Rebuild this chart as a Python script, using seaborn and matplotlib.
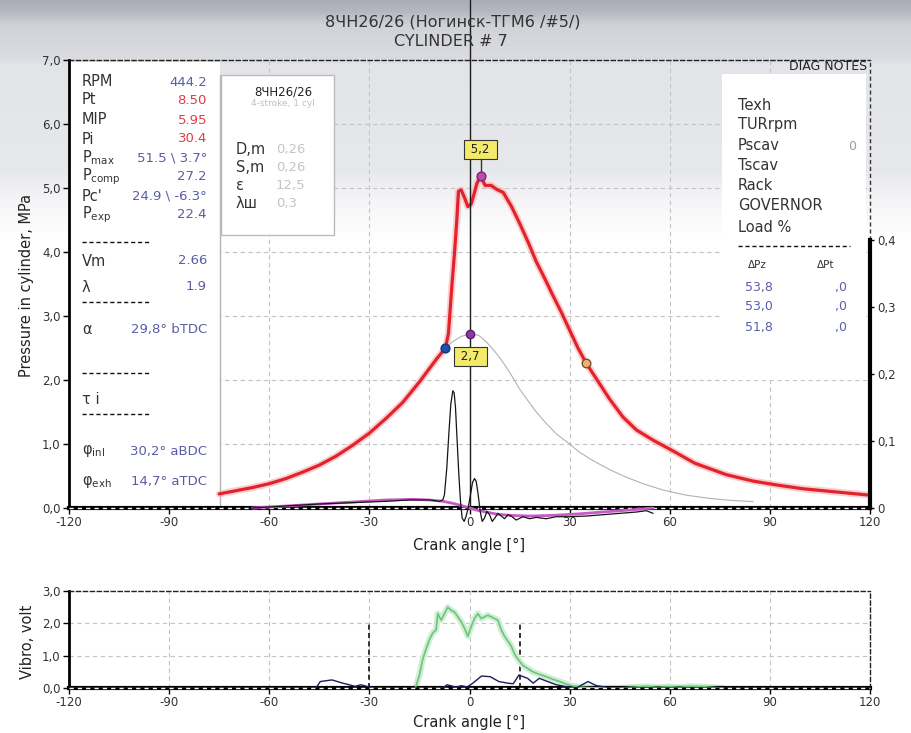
import numpy as np
import matplotlib
matplotlib.use("Agg")
import matplotlib.pyplot as plt
from matplotlib.lines import Line2D
from matplotlib.patches import Rectangle
from matplotlib.colors import to_rgb
import seaborn as sns

# ---------------- data ----------------
title_lines = ["8ЧН26/26 (Ногинск-ТГМ6 /#5/)", "CYLINDER # 7"]

x_ticks = [-120, -90, -60, -30, 0, 30, 60, 90, 120]
x_labels = ["-120", "-90", "-60", "-30", "0", "30", "60", "90", "120"]
p_ticks = [0, 1, 2, 3, 4, 5, 6, 7]
p_labels = ["0,0", "1,0", "2,0", "3,0", "4,0", "5,0", "6,0", "7,0"]
hr_ticks = [0, 0.1, 0.2, 0.3, 0.4]
hr_labels = ["0", "0,1", "0,2", "0,3", "0,4"]
v_ticks = [0, 1, 2, 3]
v_labels = ["0,0", "1,0", "2,0", "3,0"]

# cylinder pressure (MPa)
p_angle = [-75, -70, -65, -60, -55, -50, -45, -40, -35, -30, -25, -20, -15, -10, -7.2,
           -6.3, -5.3, -4.5, -3.8, -3.3, -2.5, -1.5, -0.5, 0.5, 1.5, 2.2, 3.3, 4.7, 6.5,
           8.1, 10.1, 12.6, 15, 17.6, 20, 22.6, 25, 27.6, 30, 32.5, 35, 38, 42, 46, 50,
           55, 60, 67.5, 77, 85, 92, 100, 110, 120]
p_val = [0.22, 0.27, 0.32, 0.38, 0.46, 0.56, 0.67, 0.81, 0.98, 1.17, 1.40, 1.65, 1.97, 2.32, 2.50,
         2.73, 3.46, 3.98, 4.50, 4.95, 4.97, 4.85, 4.71, 4.75, 4.93, 5.07, 5.18, 5.04, 5.04,
         4.98, 4.93, 4.71, 4.45, 4.15, 3.85, 3.58, 3.32, 3.05, 2.78, 2.50, 2.26, 2.02, 1.70, 1.42, 1.22,
         1.06, 0.92, 0.70, 0.52, 0.42, 0.36, 0.30, 0.25, 0.20]

# compression (motoring) curve
c_angle = [-10, -7.2, -5, -2.5, 0, 2.7, 5, 8, 10, 12.5, 15, 17.6, 20, 23, 26, 29.5, 33, 37,
           42, 47, 52, 58, 65, 72, 78, 85]
c_val = [2.32, 2.50, 2.60, 2.68, 2.72, 2.70, 2.60, 2.42, 2.28, 2.08, 1.86, 1.67, 1.50, 1.32, 1.16,
         1.02, 0.87, 0.74, 0.60, 0.48, 0.38, 0.28, 0.20, 0.15, 0.12, 0.10]

# black trace (right axis)
hr_angle = [-65, -55, -45, -35, -25, -18, -12, -9, -8, -7.5, -6.8, -6.2, -5.6, -5.0, -4.6, -4.2,
            -3.7, -3.2, -2.7, -2.2, -1.6, -1.0, -0.4, 0.3, 0.9, 1.5, 2.0, 2.6, 3.2, 3.8, 4.5, 5.2,
            6.0, 6.8, 7.6, 8.5, 9.5, 10.5, 11.5, 12.5, 14, 16, 18, 20, 23, 26, 30, 35, 40, 45, 50,
            53, 55]
hr_val = [0.0, 0.003, 0.006, 0.008, 0.010, 0.012, 0.012, 0.010, 0.012, 0.02, 0.06, 0.11, 0.155,
          0.175, 0.172, 0.15, 0.10, 0.05, 0.01, -0.015, -0.02, -0.012, 0.0, 0.02, 0.038, 0.044,
          0.04, 0.02, -0.005, -0.02, -0.015, -0.005, -0.01, -0.02, -0.015, -0.008, -0.012, -0.016,
          -0.01, -0.012, -0.018, -0.013, -0.016, -0.014, -0.016, -0.013, -0.013, -0.012, -0.01,
          -0.008, -0.006, -0.004, -0.008]

# purple trace (right axis)
pu_angle = [-65, -55, -45, -35, -25, -17, -12, -8, -5, -2, 0, 2, 5, 8, 12, 18, 25, 32, 40, 48, 55]
pu_val = [0.0, 0.003, 0.006, 0.009, 0.012, 0.013, 0.012, 0.010, 0.007, 0.003, 0.0, -0.003,
          -0.006, -0.009, -0.011, -0.012, -0.011, -0.009, -0.006, -0.003, 0.0]

# marked points: (angle, value)
soc_pt = (-7.2, 2.50)
tdc_pt = (0.0, 2.72)
pmax_pt = (3.3, 5.18)
pexp_pt = (35.0, 2.26)
pmax_label = "5,2"
pcomp_label = "2,7"

# vibro traces
v1_angle = [-16.2, -15, -14, -13.2, -12, -11, -10, -9.5, -8.5, -7.5, -6.5, -5.5, -4.5, -3.5, -2.5,
            -1.5, -0.5, 0.5, 1.5, 2.5, 3.5, 4.5, 5.5, 6.5, 7.5, 8.5, 9.5, 10.5, 11.5, 12.5, 13.5,
            14.8, 16, 17.5, 19, 21, 23, 25, 27, 29, 31, 33, 36, 40, 45, 50, 53, 56, 60, 63, 66,
            70, 74, 76]
v1_val = [0.0, 0.4, 0.9, 1.15, 1.5, 1.7, 1.8, 2.3, 2.1, 2.3, 2.5, 2.4, 2.35, 2.2, 2.05, 1.85, 1.6,
          1.9, 2.15, 2.3, 2.15, 2.2, 2.25, 2.2, 2.15, 2.1, 1.8, 1.6, 1.45, 1.3, 1.05, 0.85, 0.7,
          0.6, 0.5, 0.42, 0.35, 0.27, 0.2, 0.12, 0.06, 0.03, 0.01, 0.0, 0.0, 0.03, 0.05, 0.02,
          0.04, 0.02, 0.05, 0.04, 0.01, 0.0]
v2_angle = [-120, -46, -44.7, -41.2, -38, -36, -34.3, -32.6, -30, -28, -8, -6.7, -4.2, -2.4, -0.7,
            1, 3.6, 6.2, 8.8, 11.4, 13.1, 14.8, 17.4, 19.1, 20.9, 23.4, 26, 29.5, 32, 35.5,
            38.1, 40.7, 42, 45, 120]
v2_val = [0, 0, 0.2, 0.25, 0.15, 0.1, 0.05, 0.1, 0.03, 0, 0, 0.1, 0.03, 0.07, 0.03, 0.15, 0.37,
          0.35, 0.2, 0.15, 0.13, 0.4, 0.3, 0.15, 0.3, 0.2, 0.1, 0.03, 0, 0.2, 0.07, 0.03, 0, 0, 0]
vib_markers = [-30, 15]
vib_marker_height = 2.0

# side panel texts
left_names = ["RPM", "Pt", "MIP", "Pi", r"P$_{\rm max}$", r"P$_{\rm comp}$", "Pc'", r"P$_{\rm exp}$",
              "Vm", "λ"]
left_values = ["444.2", "8.50", "5.95", "30.4", "51.5 \\ 3.7°", "27.2", "24.9 \\ -6.3°", "22.4",
               "2.66", "1.9"]
left_kinds = ["b", "r", "r", "r", "b", "b", "b", "b", "b", "b"]
left_names2 = ["α", "τ i", r"φ$_{\rm inl}$", r"φ$_{\rm exh}$"]
left_values2 = ["29,8° bTDC", "", "30,2° aBDC", "14,7° aTDC"]

engine_head = ["8ЧН26/26", "4-stroke, 1 cyl"]
engine_names = ["D,m", "S,m", "ε", "λш"]
engine_values = ["0,26", "0,26", "12,5", "0,3"]

diag_title = "DIAG NOTES"
diag_names = ["Texh", "TURrpm", "Pscav", "Tscav", "Rack", "GOVERNOR", "Load %"]
diag_values = ["", "", "0", "", "", "", ""]
dp_head = ["ΔPz", "ΔPt"]
dpz_values = ["53,8", "53,0", "51,8"]
dpt_values = [",0", ",0", ",0"]

# ---------------- style ----------------
sns.set_theme(style="white")
plt.rcParams['font.family'] = ['DejaVu Sans']
plt.rcParams['mathtext.fontset'] = 'dejavusans'

W, H = 911, 733
fig = plt.figure(figsize=(W / 100, H / 100), dpi=100, facecolor='white')


def fx(px):
    return px / W


def fy(py):
    return 1 - py / H


# background gradient (title band)
bg = fig.add_axes([0, 0, 1, 1], zorder=-10)
stops = [(0, '#a8acb5'), (12, '#b6b9c1'), (24, '#d0d2d8'), (58, '#dadce2'), (64, '#e2e4e8'),
         (170, '#e7e8ec'), (200, '#f5f5f7'), (240, '#ffffff'), (H, '#ffffff')]
rows = np.arange(H)
pos = np.array([s[0] for s in stops])
cols = np.array([to_rgb(s[1]) for s in stops])
grad = np.stack([np.interp(rows, pos, cols[:, k]) for k in range(3)], axis=1)[:, None, :]
bg.imshow(grad, aspect='auto', extent=[0, 1, 0, 1], interpolation='bilinear')
bg.set_axis_off()

L, R = 69, 870
T1, B1 = 60, 508
T2, B2 = 591, 688
TXT = '#333333'
BLUE = '#5a5da6'
RED = '#e23c48'

# ---------------- main axes ----------------
ax = fig.add_axes([fx(L), fy(B1), (R - L) / W, (B1 - T1) / H])
ax.set_facecolor('none')
ax.set_xlim(-120, 120)
ax.set_ylim(0, 7)

grid_kw = dict(color='#c4c4c4', lw=0.8, ls=(0, (4, 3)), zorder=0.5)
for x in x_ticks[1:-1]:
    ax.axvline(x, **grid_kw)
for y in p_ticks[1:-1]:
    ax.axhline(y, **grid_kw)

# panels
ax.add_patch(Rectangle((0, 0), 0.188, 0.995, transform=ax.transAxes, facecolor='white',
                       edgecolor='none', zorder=1))
ax.plot([0.188, 0.188], [0, 0.967], transform=ax.transAxes, color='#b4b4b4', lw=1, zorder=1.1)
ax.add_patch(Rectangle((0.19, 0.609), 0.141, 0.358, transform=ax.transAxes, facecolor='white',
                       edgecolor='#bcbcbc', lw=1, zorder=1.2))
ax.add_patch(Rectangle((0.815, 0.286), 0.18, 0.683, transform=ax.transAxes, facecolor='white',
                       edgecolor='none', zorder=1.2))

# curves
sns.lineplot(x=c_angle, y=c_val, ax=ax, color='#b2b2b2', lw=0.8, estimator=None, sort=False,
             zorder=2.9)
sns.lineplot(x=p_angle, y=p_val, ax=ax, color='#f6a9ac', lw=5, alpha=0.55, estimator=None,
             sort=False, zorder=3)
sns.lineplot(x=p_angle, y=p_val, ax=ax, color='#e3232b', lw=2.3, estimator=None, sort=False,
             zorder=3.1)

ax.axvline(0, ymin=0, ymax=1 + T1 / (B1 - T1), color='#1e1e1e', lw=1, clip_on=False, zorder=6)

ax.scatter([soc_pt[0]], [soc_pt[1]], s=40, color='#1f4fb0', edgecolor='#15357a', zorder=7)
ax.scatter([tdc_pt[0]], [tdc_pt[1]], s=36, color='#8a3aa0', edgecolor='#5a2070', zorder=7)
ax.scatter([pmax_pt[0]], [pmax_pt[1]], s=40, color='#c04ab0', edgecolor='#7a2a70', zorder=7)
ax.scatter([pexp_pt[0]], [pexp_pt[1]], s=38, color='#f0b070', edgecolor='#7a5030', zorder=7)

ax.plot([pmax_pt[0], pmax_pt[0]], [pmax_pt[1], 5.47], color='#333', lw=1, zorder=6.5)
box_kw = dict(boxstyle='square,pad=0.25', fc='#f3ea6a', ec='#333333', lw=0.8)
ax.text(pmax_pt[0], 5.6, " " + pmax_label + " ", ha='center', va='center', fontsize=8.5,
        color='#222', bbox=box_kw, zorder=8)
ax.text(0.3, 2.37, " " + pcomp_label + " ", ha='center', va='center', fontsize=8.5,
        color='#222', bbox=box_kw, zorder=8)

# spines
ax.spines['left'].set_color('black')
ax.spines['left'].set_linewidth(2)
ax.spines['bottom'].set_color('black')
ax.spines['bottom'].set_linewidth(3)
ax.spines['top'].set_color('#222')
ax.spines['top'].set_linewidth(1)
ax.spines['top'].set_linestyle((0, (3, 2)))
ax.spines['right'].set_visible(False)
ax.plot([0, 1], [0, 0], transform=ax.transAxes, color='white', lw=1, ls=(0, (3, 3)),
        clip_on=False, zorder=10)

ax.set_xticks(x_ticks)
ax.set_xticklabels(x_labels)
ax.set_yticks(p_ticks)
ax.set_yticklabels(p_labels)
ax.tick_params(axis='both', direction='out', length=4, width=1, color='black', labelsize=8.5,
               labelcolor=TXT, pad=2, bottom=True, left=True)
ax.set_xlabel("")
ax.set_ylabel("")

# right axis
axr = ax.twinx()
axr.set_ylim(0, 0.6687)
sns.lineplot(x=pu_angle, y=pu_val, ax=axr, color='#c85ac8', lw=2.0, estimator=None, sort=False,
             clip_on=False, zorder=3)
sns.lineplot(x=hr_angle, y=hr_val, ax=axr, color='#151515', lw=0.9, estimator=None, sort=False,
             clip_on=False, zorder=4)
for s in ['left', 'top', 'bottom']:
    axr.spines[s].set_visible(False)
axr.spines['right'].set_bounds(0, 0.4)
axr.spines['right'].set_linewidth(3)
axr.spines['right'].set_color('black')
axr.plot([1, 1], [0.4 / 0.6687, 1], transform=axr.transAxes, color='#333', lw=1,
         ls=(0, (3, 2)), clip_on=False)
axr.set_yticks(hr_ticks)
axr.set_yticklabels(hr_labels)
axr.tick_params(axis='y', right=True, direction='out', length=3, width=1, color='black',
                labelsize=8.5, labelcolor=TXT, pad=2)
axr.set_ylabel("")

# ---------------- vibro axes ----------------
ax2 = fig.add_axes([fx(L), fy(B2), (R - L) / W, (B2 - T2) / H])
ax2.set_facecolor('none')
ax2.set_xlim(-120, 120)
ax2.set_ylim(0, 3)
for x in x_ticks[1:-1]:
    ax2.axvline(x, **grid_kw)
for y in v_ticks[1:-1]:
    ax2.axhline(y, **grid_kw)
ax2.vlines(vib_markers, 0, vib_marker_height, colors='#111', linestyles=(0, (3, 2)), lw=1.2,
           zorder=2)
sns.lineplot(x=v1_angle, y=v1_val, ax=ax2, color='#cfeed4', lw=4.5, estimator=None, sort=False,
             zorder=2.5)
sns.lineplot(x=v1_angle, y=v1_val, ax=ax2, color='#6cc47c', lw=1.2, estimator=None, sort=False,
             zorder=3)
sns.lineplot(x=v2_angle, y=v2_val, ax=ax2, color='#1c1c5a', lw=1.0, estimator=None, sort=False,
             zorder=3.5)
ax2.spines['left'].set_color('black')
ax2.spines['left'].set_linewidth(2)
ax2.spines['bottom'].set_color('black')
ax2.spines['bottom'].set_linewidth(3)
for s in ['top', 'right']:
    ax2.spines[s].set_color('#222')
    ax2.spines[s].set_linewidth(1)
    ax2.spines[s].set_linestyle((0, (3, 2)))
ax2.plot([0, 1], [0, 0], transform=ax2.transAxes, color='white', lw=1, ls=(0, (3, 3)),
         clip_on=False, zorder=10)
ax2.set_xticks(x_ticks)
ax2.set_xticklabels(x_labels)
ax2.set_yticks(v_ticks)
ax2.set_yticklabels(v_labels)
ax2.tick_params(axis='both', direction='out', length=4, width=1, color='black', labelsize=8.5,
                labelcolor=TXT, pad=2, bottom=True, left=True)
ax2.set_xlabel("")
ax2.set_ylabel("")

# ---------------- texts ----------------
fig.text(fx(453), fy(22), title_lines[0], ha='center', va='center', fontsize=11.5, color=TXT)
fig.text(fx(451), fy(42), title_lines[1], ha='center', va='center', fontsize=11.5, color=TXT)
fig.text(fx(27), fy(285), "Pressure in cylinder, MPa", rotation=90, ha='center', va='center',
         fontsize=10.5, color='#222')
fig.text(fx(469), fy(545), "Crank angle [°]", ha='center', va='center', fontsize=10.5, color='#222')
fig.text(fx(27), fy(642), "Vibro, volt", rotation=90, ha='center', va='center', fontsize=10.5,
         color='#222')
fig.text(fx(469), fy(722), "Crank angle [°]", ha='center', va='center', fontsize=10.5, color='#222')

# left panel
left_y = [82, 100, 120, 139, 158, 177, 196, 215, 261, 287]
for name, val, kind, yy in zip(left_names, left_values, left_kinds, left_y):
    fig.text(fx(82), fy(yy), name, ha='left', va='center', fontsize=10.5, color=TXT)
    fig.text(fx(207), fy(yy), val, ha='right', va='center', fontsize=9.5,
             color=RED if kind == 'r' else BLUE)
left_y2 = [329, 400, 451, 482]
for name, val, yy in zip(left_names2, left_values2, left_y2):
    fig.text(fx(82), fy(yy), name, ha='left', va='center', fontsize=10.5, color=TXT)
    if val:
        fig.text(fx(207), fy(yy), val, ha='right', va='center', fontsize=9.5, color=BLUE)
for yy in [242, 302, 373, 414]:
    fig.add_artist(Line2D([fx(82), fx(150)], [fy(yy), fy(yy)], color='#111', lw=1,
                          ls=(0, (3, 2))))

# engine box
fig.text(fx(283), fy(92), engine_head[0], ha='center', va='center', fontsize=8.5, color='#222')
fig.text(fx(283), fy(104), engine_head[1], ha='center', va='center', fontsize=6.5, color='#c0c0c0')
for name, val, yy in zip(engine_names, engine_values, [149, 167, 185, 204]):
    fig.text(fx(236), fy(yy), name, ha='left', va='center', fontsize=10.5, color=TXT)
    fig.text(fx(276), fy(yy), val, ha='left', va='center', fontsize=9.5, color='#c4c4c4')

# diag box
fig.text(fx(867), fy(67), diag_title, ha='right', va='center', fontsize=9, color='#222')
for name, val, yy in zip(diag_names, diag_values, [105, 125, 146, 166, 186, 206, 227]):
    fig.text(fx(738), fy(yy), name, ha='left', va='center', fontsize=10.5, color=TXT)
    if val:
        fig.text(fx(856), fy(yy), val, ha='right', va='center', fontsize=9, color='#9898b0')
fig.add_artist(Line2D([fx(738), fx(850)], [fy(246), fy(246)], color='#111', lw=1,
                      ls=(0, (3, 2))))
fig.text(fx(757), fy(265), dp_head[0], ha='center', va='center', fontsize=7.5, color=TXT)
fig.text(fx(826), fy(265), dp_head[1], ha='center', va='center', fontsize=7.5, color=TXT)
for a, b, yy in zip(dpz_values, dpt_values, [287, 307, 327]):
    fig.text(fx(745), fy(yy), a, ha='left', va='center', fontsize=9, color=BLUE)
    fig.text(fx(847), fy(yy), b, ha='right', va='center', fontsize=9, color=BLUE)

fig.savefig('out.png', dpi=100, facecolor='white')
